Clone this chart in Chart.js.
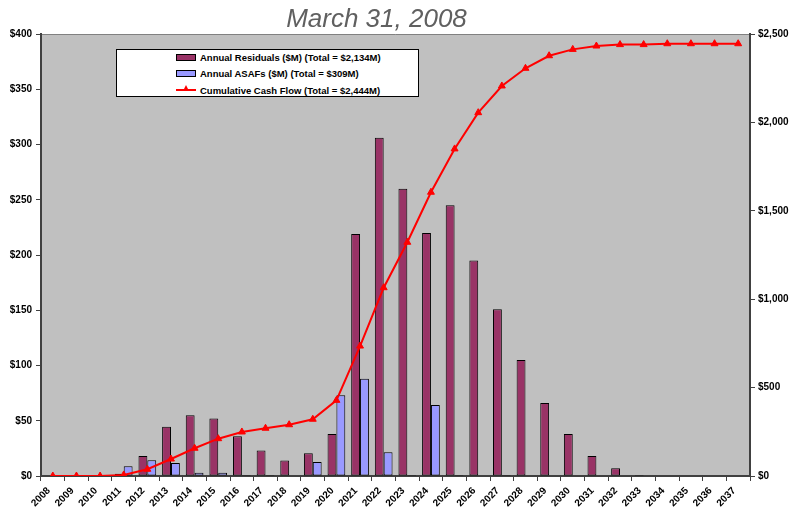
<!DOCTYPE html>
<html>
<head>
<meta charset="utf-8">
<script src="https://cdn.jsdelivr.net/npm/chart.js@4.4.1/dist/chart.umd.min.js"></script>
<style>
  html, body { margin: 0; padding: 0; background: #ffffff; }
  #wrap { position: relative; width: 804px; height: 510px; font-family: "Liberation Sans", Arial, sans-serif; }
  #titulo {
    position: absolute; left: 0; top: 5px; width: 753px; text-align: center;
    font-size: 26px; line-height: 26px; font-style: italic; color: #606060;
  }
  #legenda {
    position: absolute; left: 116px; top: 49px; width: 301px; height: 46px;
    background: #ffffff; border: 1px solid #000000; box-sizing: content-box;
  }
  .leg-item {
    position: absolute; left: 59px; height: 12px; display: flex; align-items: center;
    font-size: 9.5px; font-weight: bold; color: #000000; white-space: nowrap;
  }
  .leg-box { width: 18px; height: 5px; border: 1px solid #000000; margin-right: 4px; }
  .leg-line { position: relative; width: 20px; height: 2px; background: #ff0000; margin-right: 4px; }
  .leg-line span {
    position: absolute; left: 7px; top: -4px; width: 0; height: 0;
    border-left: 3px solid transparent; border-right: 3px solid transparent; border-bottom: 6px solid #ff0000;
  }
  canvas { position: absolute; left: 0; top: 0; }
</style>
</head>
<body>
<div id="wrap">
  <canvas id="grafico" width="804" height="510"></canvas>
  <div id="titulo">March 31, 2008</div>
  <div id="legenda"></div>
</div>
<script>
// Dados (valores em $M)
const anos = ["2008", "2009", "2010", "2011", "2012", "2013", "2014", "2015", "2016", "2017",
  "2018", "2019", "2020", "2021", "2022", "2023", "2024", "2025", "2026", "2027",
  "2028", "2029", "2030", "2031", "2032", "2033", "2034", "2035", "2036", "2037"];

const residuais = [0, 0, 0, 2, 18, 44.5, 55, 52, 36, 23,
  14, 20.5, 38, 219, 306, 260, 220, 245, 195, 151,
  105, 66, 38, 18, 7, 1, 0, 0, 0, 0];

const asafs = [0, 0, 0, 8.8, 14.3, 11.8, 3, 3, 1, 1,
  0.5, 12.7, 73, 88, 21.4, 1, 64.3, 1, 0.5, 1,
  0, 0, 0, 0, 0, 0, 0, 0, 0, 0];

const acumulado = [0, 0, 0, 6, 38, 96, 157, 211, 249, 270,
  290, 321, 428, 735, 1065, 1322, 1605, 1850, 2055, 2206,
  2306, 2377, 2413, 2432, 2440, 2440, 2445, 2445, 2445, 2445];

const rotulos = [
  "Annual Residuals ($M) (Total = $2,134M)",
  "Annual ASAFs ($M) (Total = $309M)",
  "Cumulative Cash Flow  (Total = $2,444M)"
];

const CORES = {
  residual: "#993366",
  asaf: "#9999ff",
  linha: "#ff0000",
  fundo: "#c0c0c0",
  eixo: "#404040"
};

const FONTE = "'Liberation Sans', Arial, sans-serif";

/** Pinta o fundo cinza da área de plotagem. */
const fundoPlot = {
  id: "fundoPlot",
  beforeDraw(chart) {
    const { ctx, chartArea: a } = chart;
    ctx.save();
    ctx.fillStyle = CORES.fundo;
    ctx.fillRect(a.left, a.top, a.right - a.left, a.bottom - a.top);
    ctx.strokeStyle = "#808080";
    ctx.lineWidth = 1;
    ctx.beginPath();
    ctx.moveTo(a.left, a.top + 0.5);
    ctx.lineTo(a.right, a.top + 0.5);
    ctx.stroke();
    ctx.restore();
  }
};

const ctx = document.getElementById("grafico").getContext("2d");

const grafico = new Chart(ctx, {
  type: "bar",
  data: {
    labels: anos,
    datasets: [
      {
        type: "line",
        label: rotulos[2],
        data: acumulado,
        yAxisID: "y1",
        borderColor: CORES.linha,
        backgroundColor: CORES.linha,
        borderWidth: 2,
        pointStyle: "triangle",
        pointRadius: 4,
        pointBorderWidth: 1,
        tension: 0,
        order: 0
      },
      {
        label: rotulos[0],
        data: residuais,
        yAxisID: "y",
        backgroundColor: CORES.residual,
        borderColor: "#000000",
        borderWidth: 1,
        borderSkipped: false,
        categoryPercentage: 0.75,
        barPercentage: 1.0,
        order: 1
      },
      {
        label: rotulos[1],
        data: asafs,
        yAxisID: "y",
        backgroundColor: CORES.asaf,
        borderColor: "#000000",
        borderWidth: 1,
        borderSkipped: false,
        categoryPercentage: 0.75,
        barPercentage: 1.0,
        order: 2
      }
    ]
  },
  options: {
    responsive: false,
    animation: false,
    devicePixelRatio: 1,
    layout: { padding: { top: 34, left: 0, right: 0, bottom: 0 } },
    plugins: {
      legend: { display: false },
      title: { display: false },
      tooltip: { enabled: false }
    },
    scales: {
      x: {
        afterFit: (scale) => { scale.height = 34; },
        grid: { offset: true, drawOnChartArea: false, tickLength: 5, color: CORES.eixo },
        border: { color: CORES.eixo, width: 2 },
        ticks: {
          autoSkip: false,
          minRotation: 45,
          maxRotation: 45,
          padding: 4,
          labelOffset: -4,
          color: "#000000",
          font: { family: FONTE, size: 10, weight: "bold" }
        }
      },
      y: {
        position: "left",
        min: 0,
        max: 400,
        afterFit: (scale) => { scale.width = 41; },
        grid: { drawOnChartArea: false, tickLength: 5, color: CORES.eixo },
        border: { color: CORES.eixo, width: 2 },
        ticks: {
          stepSize: 50,
          padding: 4,
          color: "#000000",
          font: { family: FONTE, size: 10, weight: "bold" },
          callback: (v) => "$" + v
        }
      },
      y1: {
        position: "right",
        min: 0,
        max: 2500,
        afterFit: (scale) => { scale.width = 54; },
        grid: { drawOnChartArea: false, tickLength: 5, color: CORES.eixo },
        border: { color: CORES.eixo, width: 2 },
        ticks: {
          stepSize: 500,
          padding: 3,
          color: "#000000",
          font: { family: FONTE, size: 10, weight: "bold" },
          callback: (v) => "$" + v.toLocaleString("en-US")
        }
      }
    }
  },
  plugins: [fundoPlot]
});

/** Monta a legenda em HTML dentro da caixa branca sobre o gráfico. */
function montarLegenda() {
  const caixa = document.getElementById("legenda");
  const ordem = [1, 2, 0];
  const topos = [1, 17, 34];
  ordem.forEach((idx, i) => {
    const ds = grafico.data.datasets[idx];
    const item = document.createElement("div");
    item.className = "leg-item";
    item.style.top = topos[i] + "px";
    const marca = ds.type === "line"
      ? `<div class="leg-line"><span></span></div>`
      : `<div class="leg-box" style="background:${ds.backgroundColor}"></div>`;
    item.innerHTML = marca + `<span>${ds.label}</span>`;
    caixa.appendChild(item);
  });
}

montarLegenda();
</script>
</body>
</html>
